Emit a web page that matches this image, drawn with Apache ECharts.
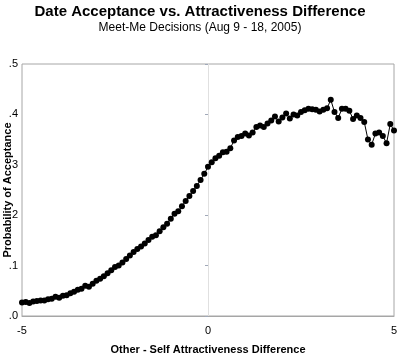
<!DOCTYPE html>
<html>
<head>
<meta charset="utf-8">
<script src="https://cdn.jsdelivr.net/npm/echarts@6/dist/echarts.min.js"></script>
<style>
html,body{margin:0;padding:0;background:#fff;}
#chart{width:400px;height:356px;}
</style>
</head>
<body>
<div id="chart"></div>
<script>
// x positions (attractiveness difference), step 0.1
const xValues = [
-5.0,-4.9,-4.8,-4.7,-4.6,-4.5,-4.4,-4.3,-4.2,-4.1,
-4.0,-3.9,-3.8,-3.7,-3.6,-3.5,-3.4,-3.3,-3.2,-3.1,
-3.0,-2.9,-2.8,-2.7,-2.6,-2.5,-2.4,-2.3,-2.2,-2.1,
-2.0,-1.9,-1.8,-1.7,-1.6,-1.5,-1.4,-1.3,-1.2,-1.1,
-1.0,-0.9,-0.8,-0.7,-0.6,-0.5,-0.4,-0.3,-0.2,-0.1,
0.0,0.1,0.2,0.3,0.4,0.5,0.6,0.7,0.8,0.9,
1.0,1.1,1.2,1.3,1.4,1.5,1.6,1.7,1.8,1.9,
2.0,2.1,2.2,2.3,2.4,2.5,2.6,2.7,2.8,2.9,
3.0,3.1,3.2,3.3,3.4,3.5,3.6,3.7,3.8,3.9,
4.0,4.1,4.2,4.3,4.4,4.5,4.6,4.7,4.8,4.9,
5.0,5.1];
// probability of acceptance
const probValues = [
0.027,0.028,0.026,0.029,0.030,0.031,0.031,0.033,0.034,0.038,
0.036,0.040,0.041,0.045,0.048,0.052,0.054,0.060,0.058,0.064,
0.070,0.074,0.079,0.085,0.091,0.097,0.100,0.106,0.113,0.120,
0.127,0.133,0.138,0.144,0.151,0.157,0.160,0.168,0.176,0.183,
0.193,0.203,0.208,0.218,0.228,0.238,0.248,0.258,0.270,0.282,
0.296,0.305,0.313,0.318,0.325,0.326,0.333,0.348,0.355,0.357,
0.362,0.358,0.364,0.375,0.378,0.375,0.382,0.388,0.396,0.386,
0.394,0.402,0.392,0.400,0.398,0.405,0.408,0.411,0.410,0.409,
0.406,0.409,0.412,0.429,0.405,0.393,0.411,0.411,0.407,0.391,
0.398,0.393,0.385,0.350,0.340,0.362,0.364,0.357,0.343,0.381,
0.368,0.355];
const yTickLabels = ['.0','.1','.2','.3','.4','.5'];
const yAxisTitle = 'Probability of Acceptance';

const data = xValues.map((x, i) => [x, probValues[i]]);
const chart = echarts.init(document.getElementById('chart'), null, {renderer: 'canvas'});
const FONT = '"Liberation Sans", Arial, Helvetica, sans-serif';
chart.setOption({
  animation: false,
  backgroundColor: '#fff',
  title: [{
    text: 'Date Acceptance vs. Attractiveness Difference',
    left: 'center', top: -1,
    textStyle: {fontFamily: FONT, fontSize: 15, fontWeight: 'bold', color: '#000'}
  }, {
    text: 'Meet-Me Decisions (Aug 9 - 18, 2005)',
    left: 'center', top: 17,
    textStyle: {fontFamily: FONT, fontSize: 12, fontWeight: 'normal', color: '#000'}
  }],
  graphic: [{
    type: 'text',
    x: 8, y: 190,
    rotation: Math.PI / 2,
    style: {
      text: yAxisTitle,
      fontFamily: FONT, fontSize: 11, fontWeight: 'bold', fill: '#000',
      align: 'center', verticalAlign: 'middle'
    }
  }],
  grid: {
    left: 22, right: 6, top: 64, bottom: 40,
    outerBoundsMode: 'none', containLabel: false,
    show: true, borderColor: '#a6a6a6', borderWidth: 1
  },
  xAxis: {
    type: 'value', min: -5, max: 5, interval: 5,
    name: 'Other - Self Attractiveness Difference',
    nameLocation: 'middle', nameGap: 28,
    nameTextStyle: {fontFamily: FONT, fontSize: 11, fontWeight: 'bold', color: '#000'},
    axisLine: {show: true, onZero: false, lineStyle: {color: '#a6a6a6'}},
    axisTick: {show: false},
    axisLabel: {fontFamily: FONT, fontSize: 11, color: '#000', margin: 9},
    splitLine: {show: false}
  },
  yAxis: {
    type: 'value', min: 0, max: 0.5, interval: 0.1,
    axisLine: {show: true, onZero: true, lineStyle: {color: '#e0e0e0'}},
    axisTick: {show: true, length: 3, lineStyle: {color: '#a0a8b8'}},
    axisLabel: {
      fontFamily: FONT, fontSize: 11, color: '#000', margin: 4,
      formatter: (v) => yTickLabels[Math.round(v * 10)]
    },
    splitLine: {show: false}
  },
  series: [{
    type: 'line',
    data: data,
    clip: true,
    symbol: 'circle',
    symbolSize: 6,
    showAllSymbol: true,
    lineStyle: {color: '#000', width: 1},
    itemStyle: {color: '#000'}
  }]
});
</script>
</body>
</html>
